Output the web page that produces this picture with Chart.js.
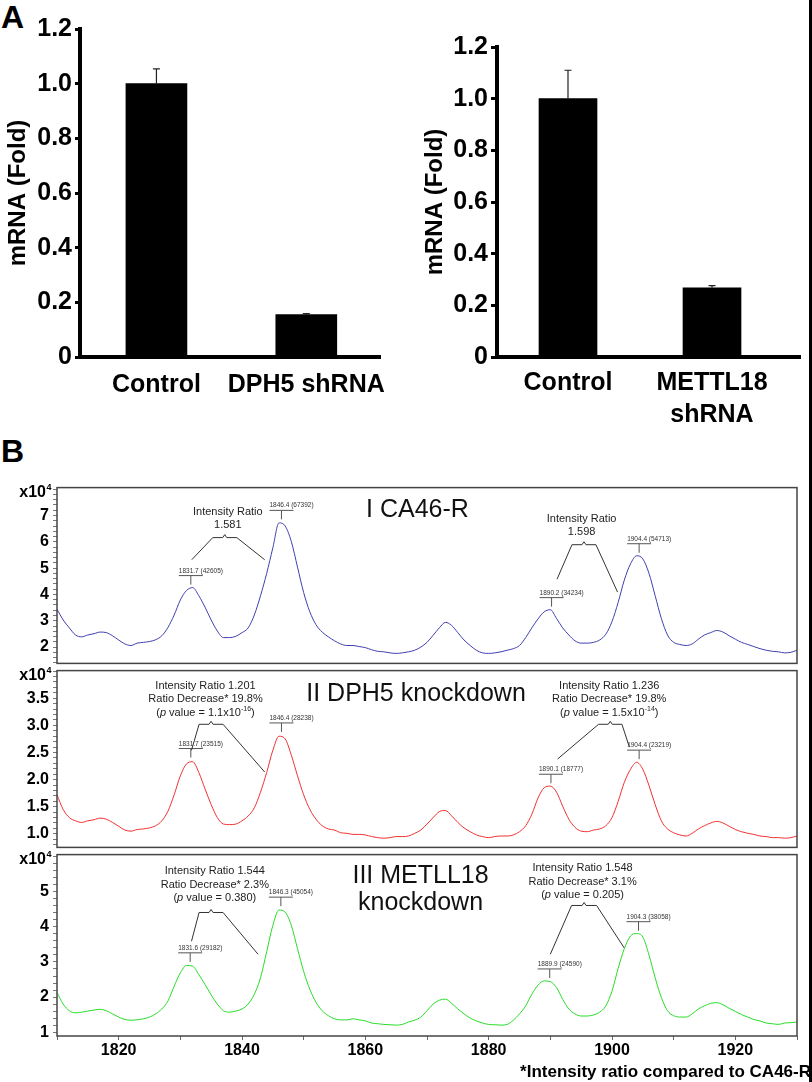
<!DOCTYPE html>
<html>
<head>
<meta charset="utf-8">
<title>DPH5 / METTL18 knockdown</title>
<script src="https://cdn.jsdelivr.net/npm/chart.js@4.4.0/dist/chart.umd.min.js"></script>
<style>
  body { margin: 0; background: #fff; width: 812px; height: 1082px; position: relative; overflow: hidden;
         font-family: "Liberation Sans", Arial, Helvetica, sans-serif; }
  .box { position: absolute; }
  .panel { position: absolute; font-weight: bold; font-size: 32px; line-height: 1; }
  .foot { position: absolute; right: 1px; top: 1062px; font-weight: bold; font-size: 17px; line-height: 20px; white-space: nowrap; }
  .edge { position: absolute; left: 809px; top: 0; width: 3px; height: 1082px; background: #000; }
</style>
</head>
<body>
<div class="panel" style="left:1px;top:1px">A</div>
<div class="panel" style="left:1px;top:435px">B</div>

<div class="box" style="left:0;top:0;width:400px;height:420px"><canvas id="bar-dph5"></canvas></div>
<div class="box" style="left:417px;top:0;width:395px;height:440px"><canvas id="bar-mettl18"></canvas></div>

<div class="box" style="left:0;top:474px;width:812px;height:203px"><canvas id="spec-ca46"></canvas></div>
<div class="box" style="left:0;top:657px;width:812px;height:204px"><canvas id="spec-dph5"></canvas></div>
<div class="box" style="left:0;top:841px;width:812px;height:241px"><canvas id="spec-mettl18"></canvas></div>

<div class="foot">*Intensity ratio compared to CA46-R</div>
<div class="edge"></div>

<script>
(function () {
    "use strict";

    var FONT = '"Liberation Sans", Arial, Helvetica, sans-serif';

    // ---- Panel A: qPCR bars ----
    var catsDph5 = ["Control", "DPH5 shRNA"];
    var foldDph5 = [1.0, 0.155];
    var errDph5 = [0.054, 0.004];

    var catsMettl18 = ["Control", ["METTL18", "shRNA"]];
    var foldMettl18 = [1.0, 0.268];
    var errMettl18 = [0.11, 0.008];

    var foldTicks = [0, 0.2, 0.4, 0.6, 0.8, 1.0, 1.2];

    // ---- Panel B: MALDI spectra (intensity x10^4) ----
    var mz = [
        1810, 1811, 1812, 1813, 1814, 1815, 1816, 1817, 1818, 1819,
        1820, 1821, 1822, 1823, 1824, 1825, 1826, 1827, 1828, 1829,
        1830, 1831, 1832, 1833, 1834, 1835, 1836, 1837, 1838, 1839,
        1840, 1841, 1842, 1843, 1844, 1845, 1846, 1847, 1848, 1849,
        1850, 1851, 1852, 1853, 1854, 1855, 1856, 1857, 1858, 1859,
        1860, 1861, 1862, 1863, 1864, 1865, 1866, 1867, 1868, 1869,
        1870, 1871, 1872, 1873, 1874, 1875, 1876, 1877, 1878, 1879,
        1880, 1881, 1882, 1883, 1884, 1885, 1886, 1887, 1888, 1889,
        1890, 1891, 1892, 1893, 1894, 1895, 1896, 1897, 1898, 1899,
        1900, 1901, 1902, 1903, 1904, 1905, 1906, 1907, 1908, 1909,
        1910, 1911, 1912, 1913, 1914, 1915, 1916, 1917, 1918, 1919,
        1920, 1921, 1922, 1923, 1924, 1925, 1926, 1927, 1928, 1929,
        1930
    ];

    var intensityCA46 = [
        3.44, 3.03, 2.73, 2.46, 2.39, 2.46, 2.51, 2.57, 2.55, 2.43,
        2.27, 2.12, 2.06, 2.15, 2.18, 2.21, 2.28, 2.43, 2.75, 3.22,
        3.79, 4.15, 4.26, 3.95, 3.52, 3.03, 2.61, 2.36, 2.36, 2.41,
        2.55, 2.73, 3.22, 3.95, 4.80, 5.77, 6.72, 6.60, 6.01, 5.04,
        4.07, 3.34, 2.85, 2.57, 2.39, 2.24, 2.12, 2.06, 2.06, 2.02,
        1.98, 1.90, 1.84, 1.82, 1.78, 1.76, 1.78, 1.82, 1.88, 2.00,
        2.18, 2.45, 2.73, 2.94, 2.82, 2.55, 2.27, 2.06, 1.88, 1.78,
        1.76, 1.78, 1.82, 1.88, 1.94, 2.06, 2.36, 2.73, 3.07, 3.34,
        3.42, 3.09, 2.73, 2.46, 2.24, 2.15, 2.15, 2.18, 2.27, 2.49,
        2.97, 3.70, 4.55, 5.16, 5.47, 5.35, 4.80, 3.95, 3.09, 2.46,
        2.18, 2.10, 2.06, 2.12, 2.30, 2.46, 2.55, 2.63, 2.57, 2.43,
        2.30, 2.18, 2.10, 2.02, 1.94, 1.88, 1.84, 1.82, 1.78, 1.80,
        1.88
    ];

    var intensityDPH5 = [
        1.72, 1.45, 1.30, 1.24, 1.21, 1.24, 1.26, 1.29, 1.27, 1.21,
        1.14, 1.07, 1.05, 1.08, 1.09, 1.11, 1.15, 1.24, 1.42, 1.72,
        2.07, 2.29, 2.33, 2.13, 1.83, 1.54, 1.30, 1.18, 1.17, 1.18,
        1.24, 1.33, 1.48, 1.77, 2.13, 2.54, 2.80, 2.75, 2.45, 2.07,
        1.72, 1.45, 1.27, 1.15, 1.09, 1.07, 1.02, 1.01, 0.99, 0.99,
        0.98, 0.95, 0.93, 0.92, 0.93, 0.95, 0.95, 0.96, 1.01, 1.07,
        1.18, 1.30, 1.41, 1.43, 1.33, 1.21, 1.11, 1.04, 0.98, 0.95,
        0.93, 0.95, 0.96, 0.96, 0.98, 1.04, 1.15, 1.36, 1.66, 1.85,
        1.88, 1.77, 1.51, 1.27, 1.12, 1.05, 1.04, 1.07, 1.09, 1.15,
        1.30, 1.60, 1.95, 2.19, 2.32, 2.19, 1.89, 1.54, 1.24, 1.09,
        1.02, 0.98, 0.96, 1.01, 1.09, 1.15, 1.20, 1.23, 1.20, 1.14,
        1.08, 1.04, 1.01, 0.99, 0.96, 0.95, 0.93, 0.93, 0.92, 0.93,
        0.96
    ];

    var intensityMETTL18 = [
        2.13, 1.80, 1.61, 1.55, 1.57, 1.60, 1.63, 1.65, 1.61, 1.52,
        1.43, 1.36, 1.34, 1.35, 1.38, 1.43, 1.52, 1.66, 1.89, 2.31,
        2.69, 2.90, 2.88, 2.64, 2.36, 2.06, 1.80, 1.61, 1.57, 1.60,
        1.66, 1.80, 2.08, 2.55, 3.29, 4.04, 4.48, 4.42, 4.04, 3.38,
        2.73, 2.22, 1.85, 1.61, 1.47, 1.38, 1.35, 1.35, 1.38, 1.35,
        1.32, 1.26, 1.24, 1.22, 1.21, 1.20, 1.22, 1.29, 1.34, 1.43,
        1.61, 1.80, 1.91, 1.94, 1.82, 1.66, 1.52, 1.40, 1.32, 1.26,
        1.22, 1.21, 1.20, 1.22, 1.34, 1.52, 1.75, 2.08, 2.34, 2.46,
        2.44, 2.27, 1.94, 1.66, 1.52, 1.46, 1.46, 1.49, 1.57, 1.75,
        2.17, 2.82, 3.38, 3.74, 3.81, 3.71, 3.20, 2.55, 1.99, 1.61,
        1.47, 1.43, 1.43, 1.52, 1.66, 1.75, 1.82, 1.84, 1.78, 1.68,
        1.59, 1.50, 1.43, 1.36, 1.32, 1.26, 1.24, 1.22, 1.26, 1.27,
        1.29
    ];

    // labelled peaks: [m/z, counts]
    var peaksCA46 = [[1831.7, 42605], [1846.4, 67392], [1890.2, 34234], [1904.4, 54713]];
    var peaksDPH5 = [[1831.7, 23515], [1846.4, 28238], [1890.1, 18777], [1904.4, 23219]];
    var peaksMETTL18 = [[1831.6, 29182], [1846.3, 45054], [1889.9, 24590], [1904.3, 38058]];

    var mzTicks = [1820, 1840, 1860, 1880, 1900, 1920];
    var ticksCA46 = [2, 3, 4, 5, 6, 7];
    var ticksDPH5 = [1.0, 1.5, 2.0, 2.5, 3.0, 3.5];
    var ticksMETTL18 = [1, 2, 3, 4, 5];

    // annotation text and where it sits (data units)
    var notesCA46 = {
        title: ["I CA46-R"], titleAt: [1868.45, 7.22],
        brackets: [
            { text: [[["Intensity Ratio"]], [["1.581"]]], at: [1837.7, 7.15],
              brace: [1835.26, 1839.15, 6.16], legs: [[1831.86, 5.32], [1843.68, 5.32]] },
            { text: [[["Intensity Ratio"]], [["1.598"]]], at: [1895.07, 6.87],
              brace: [1893.51, 1897.40, 5.89], legs: [[1891.09, 4.58], [1900.90, 4.09]] }
        ]
    };
    var notesDPH5 = {
        title: ["II DPH5 knockdown"], titleAt: [1868.22, 3.57],
        brackets: [
            { text: [[["Intensity Ratio 1.201"]], [["Ratio Decrease* 19.8%"]],
                     [["("], ["p", "i"], [" value = 1.1x10"], ["-16", "s"], [")"]]],
              at: [1834.08, 3.73], brace: [1833.04, 1836.93, 3.02], legs: [[1831.81, 2.54], [1843.68, 2.14]] },
            { text: [[["Intensity Ratio 1.236"]], [["Ratio Decrease* 19.8%"]],
                     [["("], ["p", "i"], [" value = 1.5x10"], ["-14", "s"], [")"]]],
              at: [1899.55, 3.73], brace: [1897.82, 1901.61, 3.02], legs: [[1891.18, 2.38], [1902.79, 2.61]] }
        ]
    };
    var notesMETTL18 = {
        title: ["III METLL18", "knockdown"], titleAt: [1868.95, 5.44],
        brackets: [
            { text: [[["Intensity Ratio 1.544"]], [["Ratio Decrease* 2.3%"]],
                     [["("], ["p", "i"], [" value = 0.380)"]]],
              at: [1835.59, 5.58], brace: [1833.04, 1836.93, 4.41], legs: [[1831.81, 3.59], [1842.60, 3.22]] },
            { text: [[["Intensity Ratio 1.548"]], [["Ratio Decrease* 3.1%"]],
                     [["("], ["p", "i"], [" value = 0.205)"]]],
              at: [1895.23, 5.67], brace: [1893.45, 1897.50, 4.61], legs: [[1890.0, 3.22], [1901.98, 3.40]] }
        ]
    };

    function isTick(list, v) {
        return list.some(function (t) { return Math.abs(t - v) < 1e-6; });
    }

    // all multiples of step inside [min, max], used for major + minor tick marks
    function stepTicks(min, max, step) {
        var out = [];
        for (var k = Math.ceil(min / step - 1e-9); k <= Math.floor(max / step + 1e-9); k++) {
            out.push({ value: Math.round(k * step * 1000) / 1000 });
        }
        return out;
    }

    // ---------- bar charts ----------
    function errorBars(errs) {
        return {
            id: "errorBars",
            afterDatasetsDraw: function (chart) {
                var ctx = chart.ctx, ys = chart.scales.y;
                var ds = chart.data.datasets[0];
                ctx.save();
                ctx.strokeStyle = "#222";
                ctx.lineWidth = 1.2;
                chart.getDatasetMeta(0).data.forEach(function (bar, i) {
                    var top = ys.getPixelForValue(ds.data[i].y + errs[i]);
                    ctx.beginPath();
                    ctx.moveTo(bar.x, bar.y);
                    ctx.lineTo(bar.x, top);
                    ctx.moveTo(bar.x - 3.5, top);
                    ctx.lineTo(bar.x + 3.5, top);
                    ctx.stroke();
                });
                ctx.restore();
            }
        };
    }

    function makeBars(id, cats, vals, errs, o) {
        return new Chart(document.getElementById(id), {
            type: "bar",
            data: {
                datasets: [{
                    data: vals.map(function (v, i) { return { x: i, y: v }; }),
                    backgroundColor: "#000",
                    barThickness: o.barW
                }]
            },
            options: {
                responsive: true,
                maintainAspectRatio: false,
                animation: false,
                layout: { padding: { top: o.padTop, right: o.padRight, left: 0, bottom: 0 } },
                plugins: { legend: { display: false }, tooltip: { enabled: false } },
                scales: {
                    x: {
                        type: "linear", min: o.xMin, max: o.xMax, offset: false,
                        grid: { display: false, drawTicks: false },
                        border: { display: true, color: "#000", width: 4 },
                        afterBuildTicks: function (s) { s.ticks = cats.map(function (c, i) { return { value: i }; }); },
                        afterFit: function (s) { s.height = o.xH; },
                        ticks: {
                            autoSkip: false, maxRotation: 0, padding: o.xPad, color: "#000",
                            font: { family: FONT, size: 25, weight: "bold", lineHeight: 1.28 },
                            callback: function (v) { return cats[Math.round(v)]; }
                        }
                    },
                    y: {
                        min: 0, max: 1.2,
                        afterFit: function (s) { s.width = 80; },
                        afterBuildTicks: function (s) { s.ticks = foldTicks.map(function (t) { return { value: t }; }); },
                        grid: { display: true, drawOnChartArea: false, tickLength: o.tickLen, lineWidth: 3, color: "#000" },
                        border: { display: true, color: "#000", width: 4 },
                        ticks: {
                            padding: 3, color: "#000",
                            font: { family: FONT, size: 25, weight: "bold" },
                            callback: function (v) { return v === 0 ? "0" : v.toFixed(1); }
                        },
                        title: {
                            display: true, text: "mRNA (Fold)", color: "#000",
                            font: { family: FONT, size: 24, weight: "bold" },
                            padding: { top: 4, bottom: 0 }
                        }
                    }
                }
            },
            plugins: [errorBars(errs)]
        });
    }

    makeBars("bar-dph5", catsDph5, foldDph5, errDph5,
        { barW: 61, padTop: 29, padRight: 13, xMin: -0.51, xMax: 1.497, xH: 63, xPad: 12, tickLen: 5 });
    makeBars("bar-mettl18", catsMettl18, foldMettl18, errMettl18,
        { barW: 58, padTop: 47, padRight: 12, xMin: -0.493, xMax: 1.611, xH: 83, xPad: 10, tickLen: 6 });

    // ---------- spectra ----------
    function segFont(seg, size) {
        if (seg[1] === "s") return Math.round(size * 0.65) + "px " + FONT;
        if (seg[1] === "i") return "italic " + size + "px " + FONT;
        return size + "px " + FONT;
    }

    function drawRich(ctx, segs, cx, cy, size) {
        var w = 0;
        segs.forEach(function (s) { ctx.font = segFont(s, size); w += ctx.measureText(s[0]).width; });
        var x = cx - w / 2;
        segs.forEach(function (s) {
            ctx.font = segFont(s, size);
            ctx.fillText(s[0], x, s[1] === "s" ? cy - size * 0.35 : cy);
            x += ctx.measureText(s[0]).width;
        });
    }

    function notesPlugin(notes, peaks) {
        return {
            id: "specNotes",
            afterDraw: function (chart) {
                var ctx = chart.ctx, a = chart.chartArea;
                var X = function (v) { return chart.scales.x.getPixelForValue(v); };
                var Y = function (v) { return chart.scales.y.getPixelForValue(v); };
                ctx.save();

                // frame
                ctx.strokeStyle = "#444";
                ctx.lineWidth = 1.5;
                ctx.strokeRect(a.left, a.top, a.right - a.left, a.bottom - a.top);

                // x10^4 exponent label
                ctx.fillStyle = "#000";
                ctx.textAlign = "left";
                ctx.textBaseline = "alphabetic";
                ctx.font = "bold 16px " + FONT;
                var w1 = ctx.measureText("x10").width;
                ctx.font = "bold 9px " + FONT;
                var w2 = ctx.measureText("4").width;
                var x0 = a.left - 6 - w1 - w2;
                ctx.font = "bold 16px " + FONT;
                ctx.fillText("x10", x0, a.top + 9);
                ctx.font = "bold 9px " + FONT;
                ctx.fillText("4", x0 + w1 + 0.5, a.top + 2);

                // peak labels
                ctx.strokeStyle = "#555";
                ctx.lineWidth = 1;
                ctx.fillStyle = "#333";
                ctx.font = "6.5px " + FONT;
                peaks.forEach(function (p) {
                    var px = X(p[0]), py = Y(p[1] / 10000);
                    ctx.beginPath();
                    ctx.moveTo(px - 12, py - 12);
                    ctx.lineTo(px + 12, py - 12);
                    ctx.moveTo(px, py - 12);
                    ctx.lineTo(px, py - 3);
                    ctx.stroke();
                    ctx.fillText(p[0].toFixed(1) + " (" + p[1] + ")", px - 12, py - 15);
                });

                // ratio brackets
                ctx.strokeStyle = "#333";
                ctx.fillStyle = "#222";
                ctx.textBaseline = "middle";
                notes.brackets.forEach(function (b) {
                    var l = X(b.brace[0]), r = X(b.brace[1]), by = Y(b.brace[2]), c = (l + r) / 2;
                    ctx.beginPath();
                    ctx.moveTo(X(b.legs[0][0]), Y(b.legs[0][1]));
                    ctx.lineTo(l, by);
                    ctx.lineTo(c - 2, by);
                    ctx.lineTo(c, by - 3);
                    ctx.lineTo(c + 2, by);
                    ctx.lineTo(r, by);
                    ctx.lineTo(X(b.legs[1][0]), Y(b.legs[1][1]));
                    ctx.stroke();
                    var tx = X(b.at[0]), ty = Y(b.at[1]);
                    b.text.forEach(function (line, k) { drawRich(ctx, line, tx, ty + k * 13.4, 11); });
                });

                // panel title
                ctx.fillStyle = "#111";
                ctx.textAlign = "center";
                ctx.font = "25px " + FONT;
                var cx = X(notes.titleAt[0]), cy = Y(notes.titleAt[1]);
                notes.title.forEach(function (t, k) { ctx.fillText(t, cx, cy + k * 27); });

                ctx.restore();
            }
        };
    }

    function makeSpectrum(id, vals, color, yOpt, yLabels, yFmt, notes, peaks, showX) {
        return new Chart(document.getElementById(id), {
            type: "line",
            data: {
                datasets: [{
                    data: mz.map(function (m, i) { return { x: m, y: vals[i] }; }),
                    borderColor: color,
                    borderWidth: 1,
                    pointRadius: 0,
                    cubicInterpolationMode: "monotone",
                    fill: false
                }]
            },
            options: {
                responsive: true,
                maintainAspectRatio: false,
                animation: false,
                layout: { padding: { top: 10, right: 15, left: 0, bottom: showX ? 0 : 10 } },
                plugins: { legend: { display: false }, tooltip: { enabled: false } },
                scales: {
                    x: {
                        type: "linear", min: 1810, max: 1930, display: showX,
                        afterFit: function (s) { if (showX) { s.height = 46; } },
                        afterBuildTicks: function (s) { s.ticks = stepTicks(1810, 1930, 10); },
                        grid: { display: true, drawOnChartArea: false, tickLength: 4, color: "#666", lineWidth: 1 },
                        border: { display: false },
                        ticks: {
                            autoSkip: false, maxRotation: 0, padding: 1, color: "#000",
                            font: { family: FONT, size: 16, weight: "bold" },
                            callback: function (v) { return isTick(mzTicks, v) ? String(v) : ""; }
                        }
                    },
                    y: {
                        min: yOpt.min, max: yOpt.max,
                        afterFit: function (s) { s.width = 57; },
                        afterBuildTicks: function (s) { s.ticks = stepTicks(yOpt.min, yOpt.max, yOpt.step); },
                        grid: { display: true, drawOnChartArea: false, tickLength: 4, color: "#777", lineWidth: 1 },
                        border: { display: false },
                        ticks: {
                            autoSkip: false, padding: 4, color: "#000",
                            font: { family: FONT, size: 16, weight: "bold" },
                            callback: function (v) { return isTick(yLabels, v) ? yFmt(v) : ""; }
                        }
                    }
                }
            },
            plugins: [notesPlugin(notes, peaks)]
        });
    }

    var intFmt = function (v) { return String(Math.round(v)); };
    var decFmt = function (v) { return v.toFixed(1); };

    makeSpectrum("spec-ca46", intensityCA46, "rgb(64,64,176)",
        { min: 1.38, max: 8.06, step: 0.2 }, ticksCA46, intFmt, notesCA46, peaksCA46, false);
    makeSpectrum("spec-dph5", intensityDPH5, "rgb(240,50,50)",
        { min: 0.75, max: 4.01, step: 0.1 }, ticksDPH5, decFmt, notesDPH5, peaksDPH5, false);
    makeSpectrum("spec-mettl18", intensityMETTL18, "rgb(40,220,40)",
        { min: 0.89, max: 6.06, step: 0.2 }, ticksMETTL18, intFmt, notesMETTL18, peaksMETTL18, true);
})();
</script>
</body>
</html>
